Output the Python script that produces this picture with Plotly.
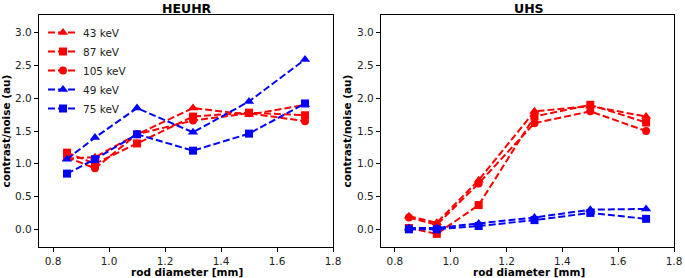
import plotly.graph_objects as go

rod_diameter = [0.85, 0.95, 1.1, 1.3, 1.5, 1.7]

heuhr_43 = [1.08, 1.10, 1.45, 1.85, 1.75, 1.90]
heuhr_87 = [1.17, 1.00, 1.31, 1.72, 1.78, 1.74]
heuhr_105 = [1.10, 0.93, 1.45, 1.66, 1.77, 1.65]
heuhr_49 = [1.07, 1.40, 1.85, 1.48, 1.95, 2.59]
heuhr_75 = [0.85, 1.07, 1.45, 1.20, 1.46, 1.92]

uhs_43 = [0.20, 0.10, 0.75, 1.80, 1.88, 1.72]
uhs_87 = [0.02, -0.07, 0.37, 1.72, 1.90, 1.63]
uhs_105 = [0.18, 0.07, 0.70, 1.62, 1.80, 1.50]
uhs_49 = [0.02, 0.02, 0.09, 0.18, 0.30, 0.31]
uhs_75 = [0.00, 0.00, 0.05, 0.14, 0.25, 0.16]

labels = ["43 keV", "87 keV", "105 keV", "49 keV", "75 keV"]
colors = ["#ff0000", "#ff0000", "#ff0000", "#0000ff", "#0000ff"]
symbols = ["triangle-up", "square", "circle", "triangle-up", "square"]
sizes = [9, 8, 8, 9, 8]

heuhr = [heuhr_43, heuhr_87, heuhr_105, heuhr_49, heuhr_75]
uhs = [uhs_43, uhs_87, uhs_105, uhs_49, uhs_75]

fig = go.Figure()
for i in range(5):
    fig.add_trace(go.Scatter(
        x=rod_diameter, y=heuhr[i], name=labels[i], mode="lines+markers",
        line=dict(color=colors[i], width=2, dash="7px,3px"),
        marker=dict(symbol=symbols[i], size=sizes[i], color=colors[i]),
        xaxis="x", yaxis="y", showlegend=True))
for i in range(5):
    fig.add_trace(go.Scatter(
        x=rod_diameter, y=uhs[i], name=labels[i], mode="lines+markers",
        line=dict(color=colors[i], width=2, dash="7px,3px"),
        marker=dict(symbol=symbols[i], size=sizes[i], color=colors[i]),
        xaxis="x2", yaxis="y2", showlegend=False))

font_family = "DejaVu Sans"
axis_common = dict(showline=True, linecolor="black", linewidth=1.3, mirror=True,
                   ticks="outside", ticklen=4, tickwidth=1.2, tickcolor="black", showgrid=False,
                   zeroline=False, automargin=False,
                   tickfont=dict(family=font_family, size=10.5, color="#222"))

W, H = 685, 278
ML, MR, MT, MB = 39, 11, 15, 31
PW = W - ML - MR
PH = H - MT - MB

def px_x(px):
    return (px - ML) / PW

def px_y(py):
    return 1 - (py - MT) / PH

xticks = [0.8, 1.0, 1.2, 1.4, 1.6, 1.8]
yticks = [0, 0.5, 1, 1.5, 2, 2.5, 3]
ytitle = dict(text="<b>contrast/noise (au)</b>", font=dict(size=10.5, family=font_family), standoff=3)

def label(text, xpx, ypx, size):
    return dict(text=text, x=px_x(xpx), y=px_y(ypx), xref="paper", yref="paper",
                showarrow=False, font=dict(family=font_family, size=size, color="black"),
                xanchor="center", yanchor="middle")

fig.update_layout(
    width=W, height=H,
    margin=dict(l=ML, r=MR, t=MT, b=MB, autoexpand=False),
    paper_bgcolor="white", plot_bgcolor="white",
    font=dict(family=font_family, color="black"),
    xaxis=dict(domain=[0, px_x(333)], range=[0.75, 1.8], tickvals=xticks, tickformat=".1f",
               anchor="y", **axis_common),
    yaxis=dict(domain=[0, 1], range=[-0.27, 3.27], tickvals=yticks, tickformat=".1f",
               anchor="x", title=ytitle, **axis_common),
    xaxis2=dict(domain=[px_x(381), 1], range=[0.75, 1.8], tickvals=xticks, tickformat=".1f",
                anchor="y2", **axis_common),
    yaxis2=dict(domain=[0, 1], range=[-0.27, 3.27], tickvals=yticks, tickformat=".1f",
                anchor="x2", title=ytitle, **axis_common),
    legend=dict(x=px_x(43), y=px_y(18), xanchor="left", yanchor="top",
                bgcolor="rgba(255,255,255,0)", borderwidth=0,
                font=dict(family=font_family, size=10.5, color="#222"),
                tracegroupgap=0, itemwidth=30),
    annotations=[
        label("<b>HEUHR</b>", 187, 8, 12.5),
        label("<b>UHS</b>", 529, 8, 12.5),
        label("<b>rod diameter [mm]</b>", 187, 272, 10.5),
        label("<b>rod diameter [mm]</b>", 529, 272, 10.5),
    ],
)

fig.write_html("out.html", config={"displayModeBar": False},
               post_script="document.body.style.margin='0';document.body.style.overflow='hidden';")
